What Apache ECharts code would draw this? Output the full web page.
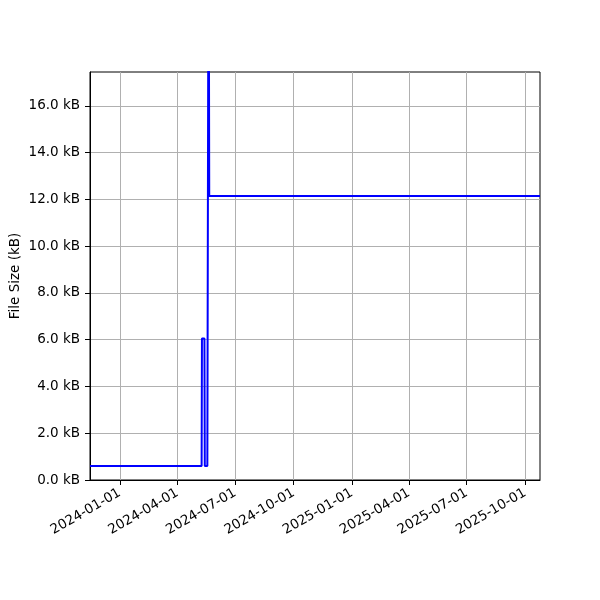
<!DOCTYPE html>
<html>
<head>
<meta charset="utf-8">
<script src="https://cdn.jsdelivr.net/npm/echarts@6/dist/echarts.min.js"></script>
<style>html,body{margin:0;padding:0;background:#fff}#c{width:600px;height:600px}</style>
</head>
<body>
<div id="c"></div>
<script>
// Data
const dates = [
  '2023-11-15 00:00', '2024-05-09 00:00', '2024-05-09 12:00', '2024-05-13 10:00',
  '2024-05-14 00:00', '2024-05-18 00:00', '2024-05-20 00:00', '2024-05-21 00:00',
  '2025-10-24 12:00'
];
const sizes = [0.6, 0.6, 6.05, 6.05, 0.6, 0.6, 26.0, 12.15, 12.15];
const xTickLabels = ['2024-01-01','2024-04-01','2024-07-01','2024-10-01','2025-01-01','2025-04-01','2025-07-01','2025-10-01'];
const yTickValues = [0, 2, 4, 6, 8, 10, 12, 14, 16];
const xRange = ['2023-11-15 00:00', '2025-10-24 12:00'];
const yMax = 17.45;

function toTs(s) {
  const [d, t] = s.split(' ');
  const [y, m, dd] = d.split('-').map(Number);
  let hh = 0, mm = 0;
  if (t) { [hh, mm] = t.split(':').map(Number); }
  return Date.UTC(y, m - 1, dd, hh, mm);
}
function fmt(v) {
  const d = new Date(v);
  const p = n => String(n).padStart(2, '0');
  return d.getUTCFullYear() + '-' + p(d.getUTCMonth() + 1) + '-' + p(d.getUTCDate());
}
const xTicks = xTickLabels.map(toTs);
const seriesData = dates.map((d, i) => [toTs(d), sizes[i]]);

const font = 'DejaVu Sans';
const chart = echarts.init(document.getElementById('c'), null, {renderer: 'canvas'});
chart.setOption({
  animation: false,
  backgroundColor: '#ffffff',
  grid: {left: 90, right: 60, top: 72, bottom: 120, show: true, borderColor: '#000', borderWidth: 1, backgroundColor: 'transparent', containLabel: false, outerBoundsMode: 'none'},
  xAxis: {
    type: 'value',
    min: toTs(xRange[0]),
    max: toTs(xRange[1]),
    scale: true,
    axisLine: {show: true, lineStyle: {color: '#000', width: 1}},
    axisTick: {show: true, length: 5, inside: false, customValues: xTicks, lineStyle: {color: '#000', width: 1}},
    axisLabel: {
      customValues: xTicks,
      rotate: 30,
      margin: 12,
      color: '#000',
      fontFamily: font,
      fontSize: 13.5,
      formatter: v => fmt(v),
      hideOverlap: false
    },
    splitLine: {show: true, lineStyle: {color: '#b0b0b0', width: 1}}
  },
  yAxis: {
    type: 'value',
    min: 0,
    max: yMax,
    name: 'File Size (kB)',
    nameLocation: 'middle',
    nameGap: 68,
    nameMoveOverlap: false,
    nameTextStyle: {color: '#000', fontFamily: font, fontSize: 13.5},
    axisLine: {show: true, lineStyle: {color: '#000', width: 1}},
    axisTick: {show: true, length: 5, inside: false, customValues: yTickValues, lineStyle: {color: '#000', width: 1}},
    axisLabel: {
      customValues: yTickValues,
      margin: 10,
      color: '#000',
      fontFamily: font,
      fontSize: 13.5,
      formatter: v => v.toFixed(1) + ' kB'
    },
    splitLine: {show: true, lineStyle: {color: '#b0b0b0', width: 1}}
  },
  series: [{
    type: 'line',
    data: seriesData,
    showSymbol: false,
    symbol: 'none',
    clip: true,
    lineStyle: {color: '#0000ff', width: 2},
    itemStyle: {color: '#0000ff'}
  }]
});
</script>
</body>
</html>
